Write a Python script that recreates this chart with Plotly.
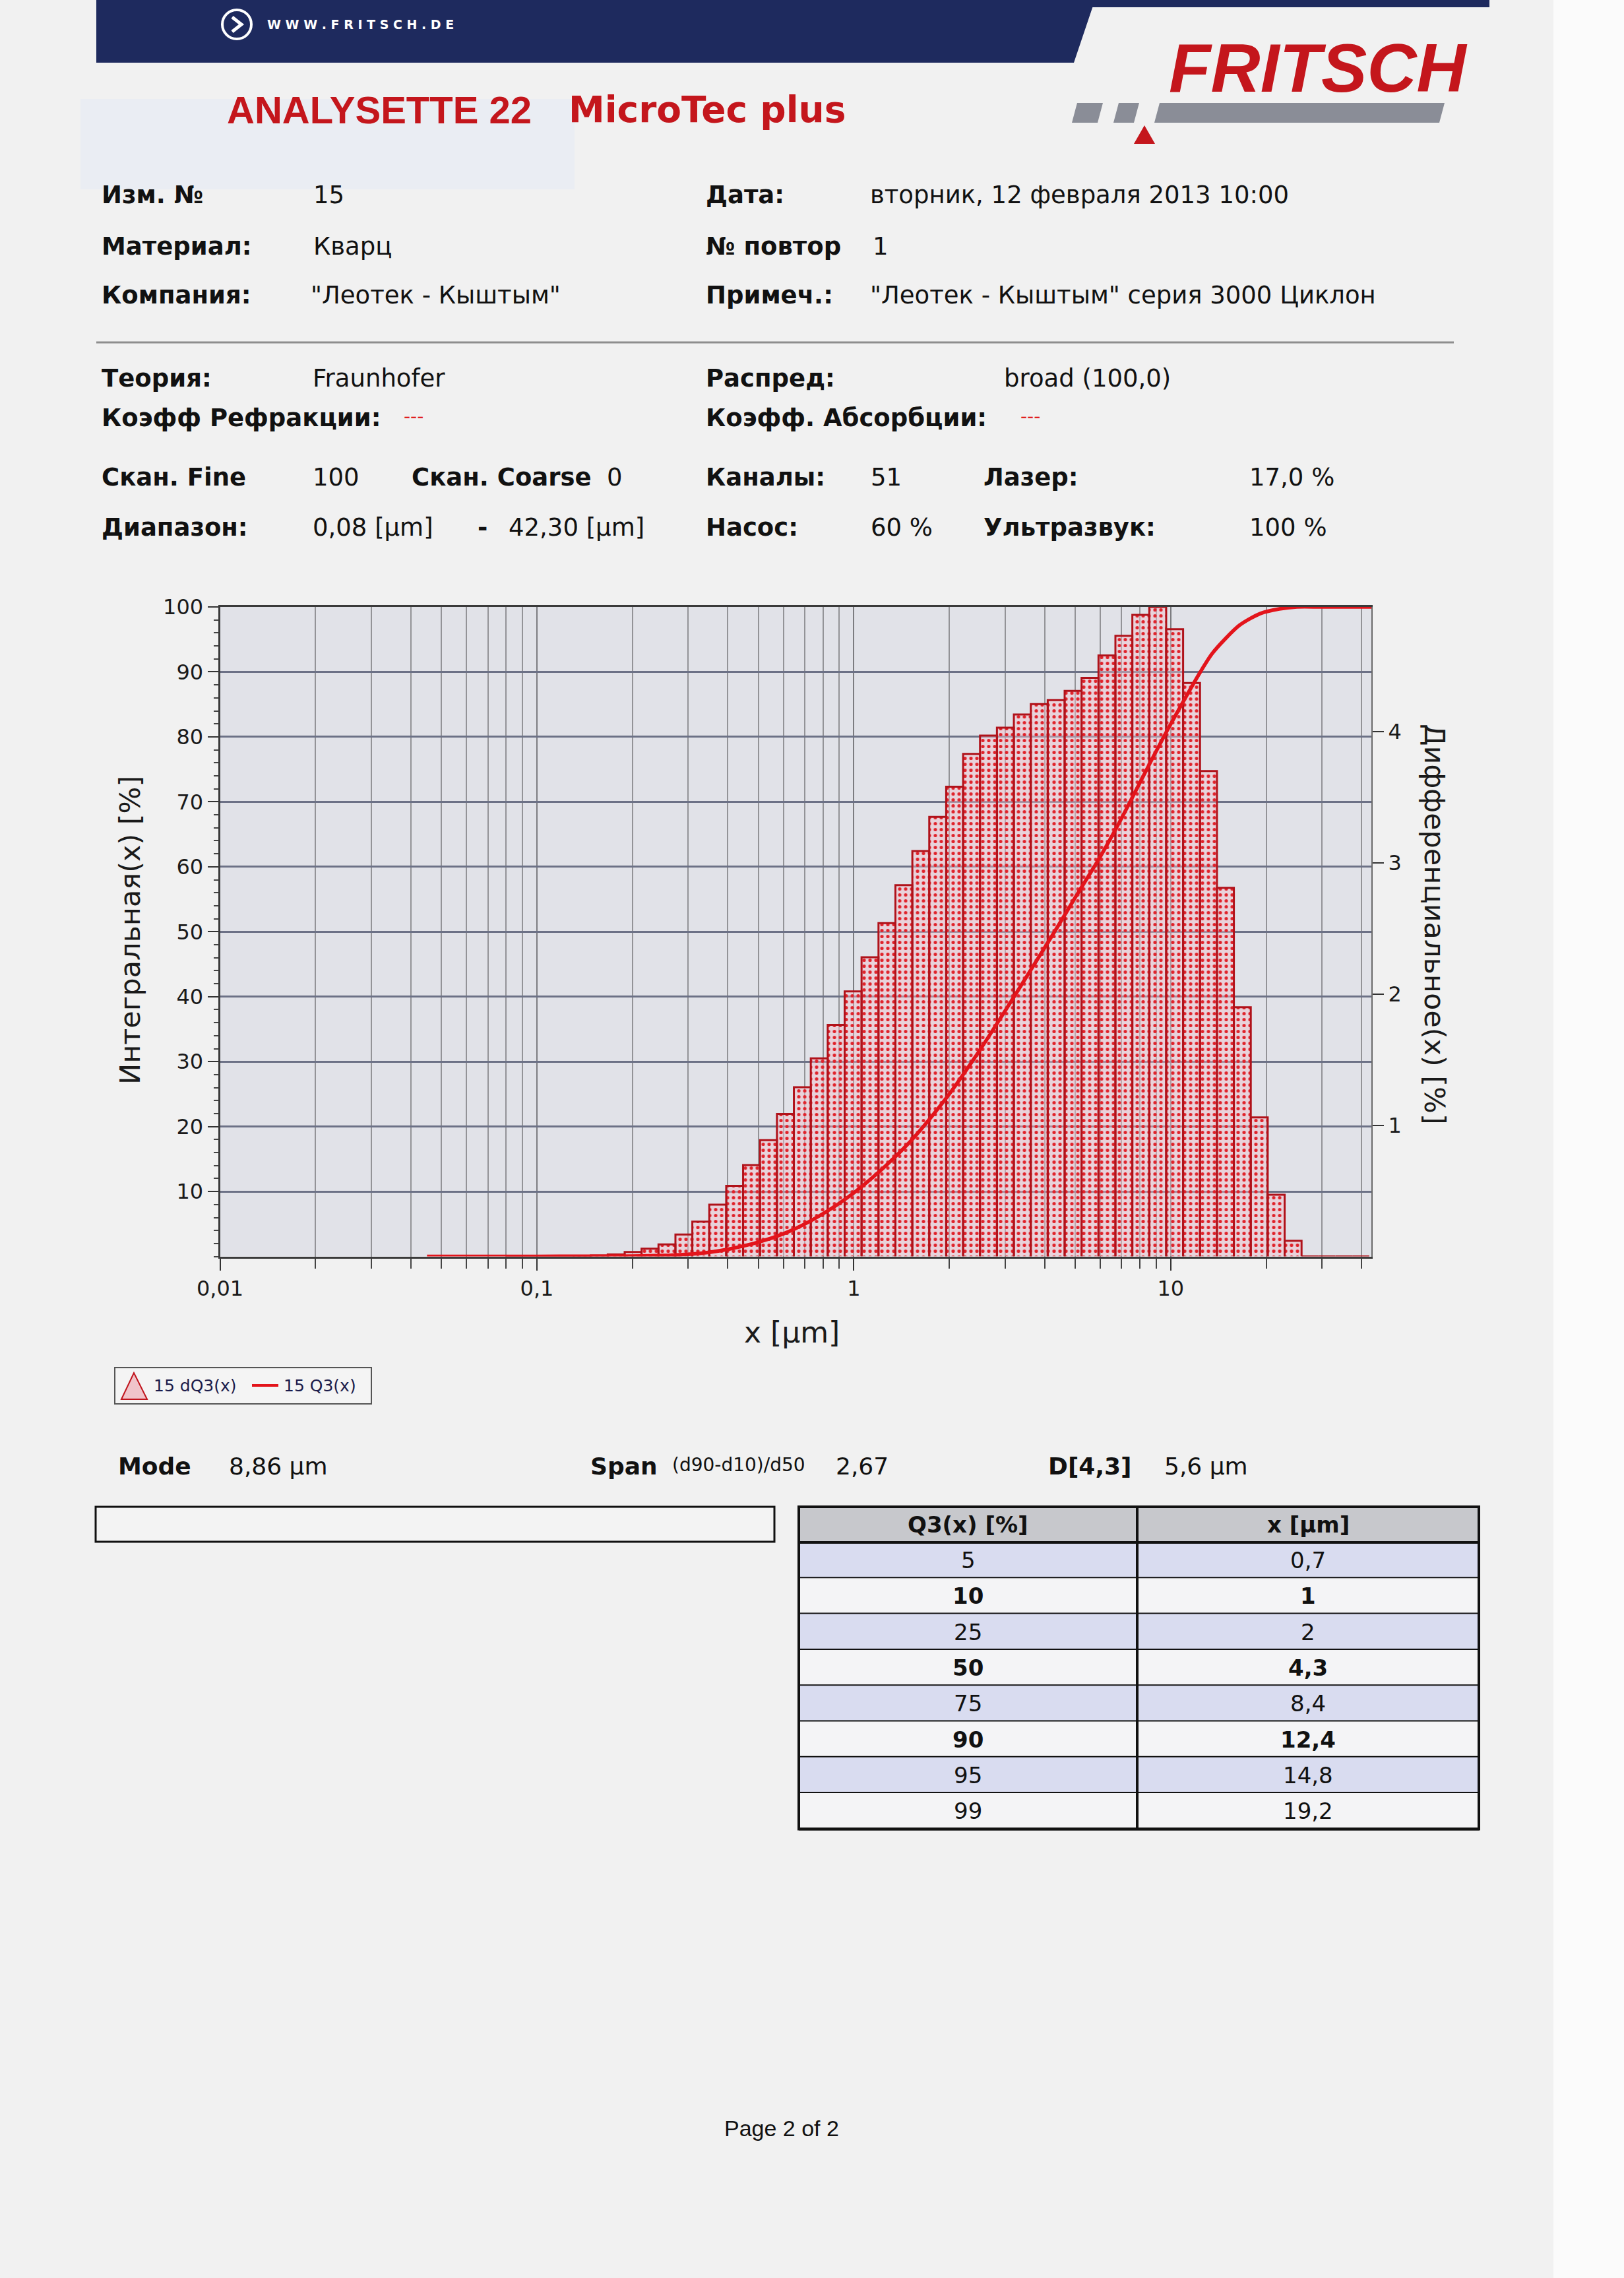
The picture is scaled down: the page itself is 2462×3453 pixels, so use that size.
"""
ANALYSETTE 22 report page - particle size distribution (Plotly rebuild)
"""

import plotly.graph_objects as go

W, H = 2462, 3453
FONT = "DejaVu Sans"
ARIAL = "Liberation Sans"
RED = "#c4161c"
NAVY = "#1e2a5e"

# channel edges [µm] - 51 channels, 0,08 ... 42,30
EDGES = [0.0800, 0.0905, 0.1023, 0.1157, 0.1308, 0.1479, 0.1673, 0.1892, 0.2139, 0.2419,
         0.2736, 0.3093, 0.3498, 0.3956, 0.4473, 0.5058, 0.5720, 0.6469, 0.7315, 0.8272,
         0.9355, 1.0578, 1.1962, 1.3527, 1.5297, 1.7298, 1.9561, 2.2120, 2.5015, 2.8286,
         3.1989, 3.6173, 4.0906, 4.6258, 5.2310, 5.9155, 6.6895, 7.5647, 8.5545, 9.6733,
         10.939, 12.370, 13.989, 15.819, 17.888, 20.229, 22.876, 25.868, 29.253, 33.080,
         37.408, 42.30]

# differential distribution dQ3 [%] per channel
DQ3 = [0, 0, 0, 0, 0.005, 0.008, 0.015, 0.034, 0.059, 0.092,
       0.168, 0.266, 0.395, 0.538, 0.697, 0.886, 1.087, 1.29, 1.51, 1.765,
       2.02, 2.28, 2.54, 2.83, 3.09, 3.35, 3.58, 3.83, 3.97, 4.03,
       4.13, 4.21, 4.24, 4.31, 4.41, 4.58, 4.73, 4.89, 4.95, 4.78,
       4.37, 3.70, 2.81, 1.90, 1.06, 0.47, 0.12, 0, 0, 0, 0]

# cumulative curve Q3 [%]
Q3_X = [0.045, 0.1, 0.15, 0.2, 0.25, 0.3, 0.35, 0.4, 0.5, 0.6, 0.7, 0.85, 1.0,
        1.25, 1.5, 1.75, 2.0, 2.5, 3.0, 3.5, 4.3, 5.0, 6.0, 7.0, 8.4, 9.7, 11.0, 12.4, 13.5,
        14.8, 16.5, 19.2, 22.0, 25.0, 30.0, 43.0]
Q3_Y = [0, 0.02, 0.03, 0.05, 0.15, 0.33, 0.65, 1.1, 2.2, 3.5, 5.0, 7.4, 9.8,
        13.8, 17.6, 21.4, 25.0, 31.8, 37.8, 43.0, 50.0, 55.3, 61.6, 67.5, 75.0, 80.8, 85.6, 90.0, 92.8,
        95.0, 97.2, 99.0, 99.7, 100, 100, 100]

X_TICKS = [0.01, 0.1, 1, 10]
X_TICKTEXT = ["0,01", "0,1", "1", "10"]
X_MINOR = [m * 10 ** e for e in range(-2, 2) for m in range(2, 10)]
Y_TICKS = [10, 20, 30, 40, 50, 60, 70, 80, 90, 100]
DIFF_TICKS = [1, 2, 3, 4]

TABLE_Q3 = ["5", "10", "25", "50", "75", "90", "95", "99"]
TABLE_X = ["0,7", "1", "2", "4,3", "8,4", "12,4", "14,8", "19,2"]
TABLE_BOLD = [False, True, False, True, False, True, False, False]


def px(x):
    return x / W


def py(y):
    return 1 - y / H


annotations = []
shapes = []


def text(x, y, s, size=37, bold=False, color="#111111", anchor="left", family=FONT, angle=0):
    annotations.append(dict(
        x=px(x), y=py(y), xref="paper", yref="paper", showarrow=False,
        text=f"<b>{s}</b>" if bold else s, xanchor=anchor, yanchor="middle",
        textangle=angle, font=dict(size=size, color=color, family=family)))


def rect(x0, y0, x1, y1, fill="rgba(0,0,0,0)", line=None, lw=0, layer="above"):
    shapes.append(dict(type="rect", xref="paper", yref="paper",
                       x0=px(x0), x1=px(x1), y0=py(y1), y1=py(y0),
                       fillcolor=fill, line=dict(color=line or "rgba(0,0,0,0)", width=lw),
                       layer=layer))


def poly(points, fill, line=None, lw=0, layer="above"):
    d = "M " + " L ".join(f"{px(x):.5f},{py(y):.5f}" for x, y in points) + " Z"
    shapes.append(dict(type="path", xref="paper", yref="paper", path=d, fillcolor=fill,
                       line=dict(color=line or "rgba(0,0,0,0)", width=lw), layer=layer))


def hline(x0, x1, y, color, lw):
    shapes.append(dict(type="line", xref="paper", yref="paper", x0=px(x0), x1=px(x1),
                       y0=py(y), y1=py(y), line=dict(color=color, width=lw)))


# ---- page decoration / header
rect(2355, 0, W, H, fill="#fbfbfb", layer="below")
rect(122, 150, 871, 287, fill="#eaedf3", layer="below")
poly([(146, 0), (1660, 0), (1628, 95), (146, 95)], NAVY)
rect(1640, 0, 2258, 11, fill=NAVY)
shapes.append(dict(type="circle", xref="paper", yref="paper", x0=px(337), x1=px(381),
                   y0=py(59), y1=py(15), line=dict(color="white", width=4)))
shapes.append(dict(type="path", xref="paper", yref="paper",
                   path=f"M {px(352)},{py(26)} L {px(366)},{py(37)} L {px(352)},{py(48)}",
                   line=dict(color="white", width=5)))
text(403, 37, "W W W . F R I T S C H . D E", size=19, bold=True, color="white")

text(1998, 103, "<i>FRITSCH</i>", size=104, bold=True, color=RED, anchor="center", family=ARIAL)
poly([(1633, 156), (1672, 156), (1664, 186), (1625, 186)], "#8a8d97")
poly([(1696, 156), (1727, 156), (1719, 186), (1688, 186)], "#8a8d97")
poly([(1758, 156), (2190, 156), (2182, 186), (1750, 186)], "#8a8d97")
poly([(1735, 190), (1751, 218), (1719, 218)], RED)

text(342, 166, "ANALYSETTE 22", size=58, bold=True, color=RED, family=ARIAL)
text(860, 166, "MicroTec plus", size=55, bold=True, color=RED)

# ---- measurement info
INFO = [
    (152, 296, "Изм. №", True), (473, 296, "15", False),
    (1068, 296, "Дата:", True), (1317, 296, "вторник, 12 февраля 2013 10:00", False),
    (152, 373, "Материал:", True), (473, 373, "Кварц", False),
    (1068, 373, "№ повтор", True), (1321, 373, "1", False),
    (152, 448, "Компания:", True), (469, 448, '"Леотек - Кыштым"', False),
    (1068, 448, "Примеч.:", True), (1317, 448, '"Леотек - Кыштым" серия 3000 Циклон', False),
    (152, 573, "Теория:", True), (472, 573, "Fraunhofer", False),
    (1068, 573, "Распред:", True), (1520, 573, "broad (100,0)", False),
    (152, 634, "Коэфф Рефракции:", True),
    (1068, 634, "Коэфф. Абсорбции:", True),
    (152, 723, "Скан. Fine", True), (472, 723, "100", False),
    (622, 723, "Скан. Coarse", True), (918, 723, "0", False),
    (1068, 723, "Каналы:", True), (1318, 723, "51", False),
    (1489, 723, "Лазер:", True), (1892, 723, "17,0 %", False),
    (152, 799, "Диапазон:", True), (472, 799, "0,08 [µm]", False),
    (722, 799, "-", True), (769, 799, "42,30 [µm]", False),
    (1068, 799, "Насос:", True), (1318, 799, "60 %", False),
    (1489, 799, "Ультразвук:", True), (1892, 799, "100 %", False),
]
for x, y, s, b in INFO:
    text(x, y, s, bold=b)
text(610, 632, "---", size=28, color="#e02020")
text(1545, 632, "---", size=28, color="#e02020")
hline(146, 2204, 519, "#8e8e8e", 3)

# ---- chart
bx, by = [], []
for lo, hi, h in zip(EDGES[:-1], EDGES[1:], DQ3):
    bx += [lo, lo, hi, hi, None]
    by += [0, h, h, 0, None]

fig = go.Figure()
fig.add_trace(go.Scatter(
    x=bx, y=by, mode="lines", fill="toself", xaxis="x", yaxis="y",
    fillcolor="rgba(238,186,198,0.5)",
    fillpattern=dict(shape=".", fgcolor="#e0222a", bgcolor="rgba(242,190,202,0.45)",
                     size=9, solidity=0.25),
    line=dict(color="#b0121a", width=3), hoverinfo="skip", name="15 dQ3(x)"))
fig.add_trace(go.Scatter(
    x=Q3_X, y=Q3_Y, mode="lines", xaxis="x", yaxis="y2",
    line=dict(color="#e3141b", width=5.5, shape="spline", smoothing=0.8), name="15 Q3(x)"))

text(197, 1410, "Интегральная(x) [%]", size=43, color="#1a1a1a", anchor="center", angle=-90)
text(2175, 1401, "Дифференциальное(x) [%]", size=43, color="#1a1a1a", anchor="center", angle=90)
text(1200, 2019, "x [µm]", size=44, color="#1a1a1a", anchor="center")

# ---- legend
rect(174, 2073, 563, 2128, fill="#f4f4f4", line="#555555", lw=2)
poly([(184, 2121), (203, 2081), (223, 2121)], "#f0c4ca", line="#c0141c", lw=2)
text(231, 2100, "15 dQ3(x)", size=25, color="#1b1b4a")
hline(382, 422, 2100, "#e3141b", 4)
text(428, 2100, "15 Q3(x)", size=25, color="#1b1b4a")

# ---- statistics
text(177, 2222, "Mode", size=36, bold=True)
text(345, 2222, "8,86 µm", size=36)
text(893, 2222, "Span", size=36, bold=True)
text(1017, 2220, "(d90-d10)/d50", size=28)
text(1265, 2222, "2,67", size=36)
text(1587, 2222, "D[4,3]", size=36, bold=True)
text(1763, 2222, "5,6 µm", size=36)

rect(145, 2284, 1174, 2337, fill="#f3f3f3", line="#111111", lw=3)

# ---- Q3 table
TX0, TXM, TX1 = 1211, 1724, 2242
TY0, THEAD, TROW = 2284, 2338, 54.3
rect(TX0, TY0, TX1, THEAD, fill="#c7c8cc")
text((TX0 + TXM) / 2, (TY0 + THEAD) / 2, "Q3(x) [%]", size=34, bold=True, anchor="center")
text((TXM + TX1) / 2, (TY0 + THEAD) / 2, "x [µm]", size=34, bold=True, anchor="center")
for i, (q, xv, b) in enumerate(zip(TABLE_Q3, TABLE_X, TABLE_BOLD)):
    y0 = THEAD + i * TROW
    y1 = y0 + TROW
    rect(TX0, y0, TX1, y1, fill="#d9dcf0" if i % 2 == 0 else "#f4f4f6")
    text((TX0 + TXM) / 2, (y0 + y1) / 2, q, size=34, bold=b, anchor="center")
    text((TXM + TX1) / 2, (y0 + y1) / 2, xv, size=34, bold=b, anchor="center")
    hline(TX0, TX1, y1, "#111111", 4)
TY1 = THEAD + len(TABLE_Q3) * TROW
hline(TX0, TX1, THEAD, "#111111", 4)
rect(TX0, TY0, TX1, TY1, line="#111111", lw=4)
shapes.append(dict(type="line", xref="paper", yref="paper", x0=px(TXM), x1=px(TXM),
                   y0=py(TY0), y1=py(TY1), line=dict(color="#111111", width=4)))

text(1185, 3226, "Page 2 of 2", size=34, color="#111111", anchor="center", family=ARIAL)

# plot area in page pixels
PL, PR, PT, PB = 333.5, 2079, 920, 1904.6

fig.update_layout(
    template="none",
    width=W, height=H, autosize=False,
    margin=dict(l=0, r=0, t=0, b=0, pad=0, autoexpand=False),
    paper_bgcolor="#f1f1f1", plot_bgcolor="#e1e2e8",
    font=dict(family=FONT, color="#1a1a1a"),
    showlegend=False,
    xaxis=dict(
        type="log", range=[-2, 1.633], domain=[px(PL), px(PR)], anchor="y",
        automargin=False,
        tickmode="array", tickvals=X_TICKS, ticktext=X_TICKTEXT,
        ticks="outside", ticklen=18, tickwidth=2, tickcolor="#333333",
        tickfont=dict(size=32, color="#1a1a1a"),
        showgrid=True, gridcolor="#7c7c80", gridwidth=2,
        minor=dict(tickmode="array", tickvals=X_MINOR, ticks="outside", ticklen=15,
                   tickwidth=1.5, tickcolor="#444444", showgrid=True,
                   gridcolor="#939397", gridwidth=1.5),
        showline=True, linecolor="#3a3a3a", linewidth=3, mirror=True, zeroline=False),
    yaxis=dict(
        range=[0, 4.95], domain=[py(PB), py(PT)], anchor="x", side="right",
        automargin=False,
        tickmode="array", tickvals=DIFF_TICKS, ticks="outside", ticklen=17,
        tickwidth=2, tickcolor="#333333", tickfont=dict(size=32, color="#1a1a1a"),
        showgrid=False, zeroline=False, showline=True, linecolor="#6a6a6a", linewidth=2),
    yaxis2=dict(
        range=[0, 100], overlaying="y", anchor="x", side="left",
        automargin=False,
        tickmode="array", tickvals=Y_TICKS, ticks="outside", ticklen=16,
        tickwidth=2, tickcolor="#333333", tickfont=dict(size=32, color="#1a1a1a"),
        showgrid=True, gridcolor="#6c7186", gridwidth=2.5, zeroline=False,
        minor=dict(dtick=2, ticks="outside", ticklen=7, tickwidth=1.5,
                   tickcolor="#444444", showgrid=False),
        showline=True, linecolor="#3a3a3a", linewidth=3),
    annotations=annotations,
    shapes=shapes,
)

fig.write_html(
    "out.html",
    config={"displayModeBar": False},
    post_script="document.body.style.margin='0';"
                "document.documentElement.style.overflow='hidden';",
)
